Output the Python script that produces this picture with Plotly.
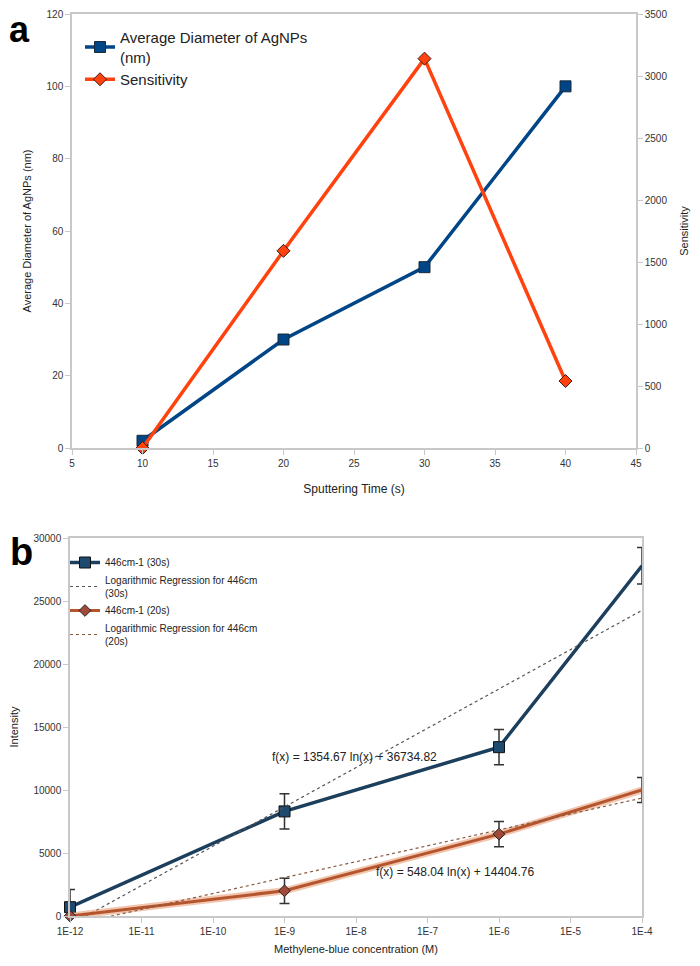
import plotly.graph_objects as go

# Panel a data
sputter_time = [10, 20, 30, 40]
avg_diameter = [2, 30, 50, 100]
sensitivity = [0, 1590, 3140, 540]

# Panel b data
concentration = [1e-12, 1e-9, 1e-6, 1e-4]
intensity_30s = [700, 8300, 13400, 27800]
err_30s = [1400, 1400, 1400, 1450]
intensity_20s = [0, 2000, 6500, 10000]
err_20s = [0, 1000, 1000, 1000]
trend_x = [1e-12, 1e-4]
trend_30s = [-700, 24260]
trend_20s = [-740, 9360]
conc_ticks = [1e-12, 1e-11, 1e-10, 1e-9, 1e-8, 1e-7, 1e-6, 1e-5, 1e-4]
conc_labels = ["1E-12", "1E-11", "1E-10", "1E-9", "1E-8", "1E-7", "1E-6", "1E-5", "1E-4"]

FONT = "Liberation Sans"
GRID = "#c8c8c8"
# page body has an 8px margin, so the figure is a bit smaller than the window
OFF = 8
W, H = 700 - OFF, 966 - OFF


def px_x(p):
    return (p - OFF) / W


def px_y(p):
    return 1 - (p - OFF) / H


fig = go.Figure()

# ---- panel a ----
fig.add_trace(go.Scatter(
    x=sputter_time, y=avg_diameter, name="Average Diameter of AgNPs<br>(nm)",
    mode="lines+markers", line=dict(color="#004586", width=3.5),
    marker=dict(symbol="square", size=11, color="#004586", line=dict(color="#1a2a3a", width=1)),
    xaxis="x", yaxis="y", legend="legend", cliponaxis=False,
))
fig.add_trace(go.Scatter(
    x=sputter_time, y=sensitivity, name="Sensitivity",
    mode="lines+markers", line=dict(color="#ff420e", width=3.5),
    marker=dict(symbol="diamond", size=10, color="#ff420e", line=dict(color="#3a1a10", width=1)),
    xaxis="x", yaxis="y2", legend="legend", cliponaxis=False,
))

# ---- panel b ----
fig.add_trace(go.Scatter(
    x=concentration, y=intensity_30s, name="446cm-1 (30s)",
    mode="lines+markers", line=dict(color="#1b3f5c", width=3.5),
    marker=dict(symbol="square", size=11, color="#1f4a70", line=dict(color="#111", width=1)),
    error_y=dict(type="data", array=err_30s, color="#333", thickness=1.5, width=5),
    xaxis="x2", yaxis="y3", legend="legend2", cliponaxis=False,
))
fig.add_trace(go.Scatter(
    x=trend_x, y=trend_30s, name="Logarithmic Regression for 446cm<br>(30s)",
    mode="lines", line=dict(color="#555555", width=1.2, dash="dot"),
    xaxis="x2", yaxis="y3", legend="legend2",
))
# glow under the 20s line
fig.add_trace(go.Scatter(
    x=concentration, y=intensity_20s, mode="lines", showlegend=False, hoverinfo="skip",
    line=dict(color="rgba(232,150,110,0.55)", width=7),
    xaxis="x2", yaxis="y3",
))
fig.add_trace(go.Scatter(
    x=concentration, y=intensity_20s, name="446cm-1 (20s)",
    mode="lines+markers", line=dict(color="#b4552e", width=3),
    marker=dict(symbol="diamond", size=9, color="#a04a3a", line=dict(color="#222", width=1)),
    error_y=dict(type="data", array=err_20s, color="#333", thickness=1.5, width=5),
    xaxis="x2", yaxis="y3", legend="legend2", cliponaxis=False,
))
fig.add_trace(go.Scatter(
    x=trend_x, y=trend_20s, name="Logarithmic Regression for 446cm<br>(20s)",
    mode="lines", line=dict(color="#8a5a40", width=1.2, dash="dot"),
    xaxis="x2", yaxis="y3", legend="legend2",
))

tickfont = dict(family=FONT, size=10, color="#333")
axis_common = dict(showline=True, linecolor=GRID, linewidth=1.5, ticks="outside",
                   ticklen=5, tickcolor=GRID, showgrid=False, zeroline=False,
                   tickfont=tickfont, automargin=False, ticklabeloverflow="allow")

fig.update_layout(
    width=W, height=H,
    margin=dict(l=0, r=0, t=0, b=0),
    paper_bgcolor="white", plot_bgcolor="white",
    font=dict(family=FONT, color="#222"),
    xaxis=dict(domain=[px_x(72), px_x(636)], range=[5, 45], dtick=5, anchor="y",
               mirror=True, title=dict(text="Sputtering Time (s)", font=dict(size=12), standoff=17),
               **axis_common),
    yaxis=dict(domain=[px_y(448), px_y(14)], range=[0, 120], dtick=20, anchor="x",
               title=dict(text="Average Diameter of AgNPs (nm)", font=dict(size=11), standoff=13),
               **axis_common),
    yaxis2=dict(range=[0, 3500], dtick=500, overlaying="y", side="right", anchor="x",
                title=dict(text="Sensitivity", font=dict(size=11), standoff=14),
                **axis_common),
    xaxis2=dict(domain=[px_x(70), px_x(642)], type="log", range=[-12, -4], anchor="y3",
                tickvals=conc_ticks, ticktext=conc_labels, mirror=True,
                title=dict(text="Methylene-blue concentration (M)", font=dict(size=11), standoff=10),
                **axis_common),
    yaxis3=dict(domain=[px_y(916), px_y(538)], range=[0, 30000], dtick=5000, anchor="x2",
                mirror=True, tickformat="d",
                title=dict(text="Intensity", font=dict(size=11), standoff=24),
                **axis_common),
    legend=dict(x=px_x(80), y=px_y(21), xanchor="left", yanchor="top",
                font=dict(family=FONT, size=15, color="#222"), bgcolor="rgba(0,0,0,0)",
                itemwidth=30, tracegroupgap=2),
    legend2=dict(x=px_x(65), y=px_y(548), xanchor="left", yanchor="top",
                 font=dict(family=FONT, size=10, color="#222"), bgcolor="rgba(0,0,0,0)",
                 itemwidth=30, tracegroupgap=0),
    annotations=[
        dict(text="<b>a</b>", x=0, y=px_y(8), xref="paper", yref="paper", xanchor="left",
             yanchor="top", borderpad=0, showarrow=False,
             font=dict(family=FONT, size=36, color="black")),
        dict(text="<b>b</b>", x=0, y=px_y(552), xref="paper", yref="paper", xanchor="left",
             yanchor="middle", showarrow=False, font=dict(family=FONT, size=38, color="black")),
        dict(text="f(x) = 1354.67 ln(x) + 36734.82", x=px_x(355), y=px_y(766), xref="paper",
             yref="paper", showarrow=False, font=dict(family=FONT, size=12, color="#222")),
        dict(text="f(x) = 548.04 ln(x) + 14404.76", x=px_x(455), y=px_y(881), xref="paper",
             yref="paper", showarrow=False, font=dict(family=FONT, size=12, color="#222")),
    ],
)

fig.write_html("out.html")
